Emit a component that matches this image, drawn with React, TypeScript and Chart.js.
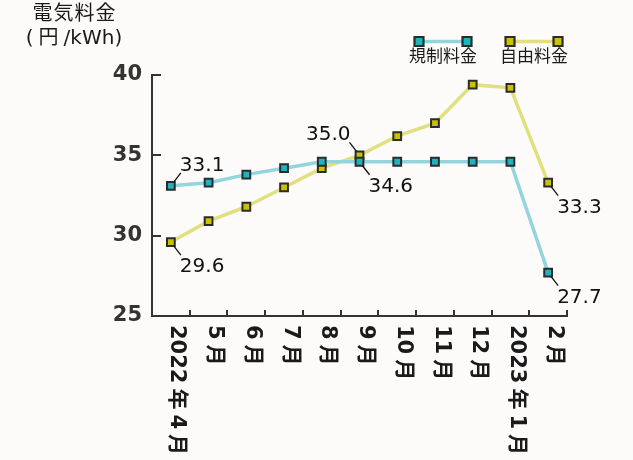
import React, { useEffect, useRef } from 'react';
import { Chart, registerables } from 'chart.js';

Chart.register(...registerables);

// ---- data ----
const categories = ['2022年4月', '5月', '6月', '7月', '8月', '9月', '10月', '11月', '12月', '2023年1月', '2月'];
const regulatedValues = [33.1, 33.3, 33.8, 34.2, 34.6, 34.6, 34.6, 34.6, 34.6, 34.6, 27.7];
const freeValues = [29.6, 30.9, 31.8, 33.0, 34.2, 35.0, 36.2, 37.0, 39.4, 39.2, 33.3];
const seriesNames = ['規制料金', '自由料金'];
const yTicks = [25, 30, 35, 40];
const titleLines = ['電気料金', '(円/kWh)'];
// which points carry a value label: [dataset, index, direction]
const labelledPoints: [number, number, string][] = [
  [0, 0, 'ur'],
  [1, 0, 'dr'],
  [1, 5, 'ul'],
  [0, 5, 'dr'],
  [1, 10, 'dr'],
  [0, 10, 'dr'],
];

// ---- styles ----
const BG = '#fdfbfa';
const AXIS = '#333333';
const TEXT = '#1a1a1a';
const MARK_BORDER = '#2b2b2b';
const seriesLine = ['#92d5dd', '#e2df7e'];
const seriesFill = ['#1cb4c1', '#c8c200'];
const FONT = '"DejaVu Sans", "Noto Sans CJK JP", sans-serif';

const isCJK = (c: string) => /[\u3000-\u9fff\uff00-\uffef]/.test(c);

function spacedWidth(ctx: CanvasRenderingContext2D, text: string, pad: number) {
  let w = 0;
  for (const c of Array.from(text)) {
    w += ctx.measureText(c).width + (isCJK(c) ? 2 * pad : 0);
  }
  return w;
}

function drawSpaced(ctx: CanvasRenderingContext2D, text: string, x: number, y: number, pad: number) {
  const prevAlign = ctx.textAlign;
  ctx.textAlign = 'left';
  let cx = x;
  for (const c of Array.from(text)) {
    const cjk = isCJK(c);
    if (cjk) cx += pad;
    ctx.fillText(c, cx, y);
    cx += ctx.measureText(c).width;
    if (cjk) cx += pad;
  }
  ctx.textAlign = prevAlign;
}

const decorPlugin = {
  id: 'decor',
  beforeDraw(chart: any) {
    const ctx = chart.ctx;
    ctx.save();
    ctx.fillStyle = BG;
    ctx.fillRect(0, 0, chart.width, chart.height);
    ctx.restore();
  },
  afterDraw(chart: any) {
    const ctx: CanvasRenderingContext2D = chart.ctx;
    const xs = chart.scales.x;
    const ys = chart.scales.y;
    const area = chart.chartArea;
    ctx.save();

    // inward y ticks
    ctx.strokeStyle = AXIS;
    ctx.lineWidth = 2;
    yTicks.forEach((v) => {
      const py = Math.round(ys.getPixelForValue(v));
      ctx.beginPath();
      ctx.moveTo(area.left, py);
      ctx.lineTo(area.left + 9, py);
      ctx.stroke();
    });

    // inward x ticks at category boundaries
    const step = xs.getPixelForValue(1) - xs.getPixelForValue(0);
    categories.forEach((_, i) => {
      const px = Math.round(xs.getPixelForValue(i) + step / 2);
      ctx.beginPath();
      ctx.moveTo(px, area.bottom);
      ctx.lineTo(px, area.bottom - 6);
      ctx.stroke();
    });

    // rotated x labels (reading top to bottom)
    ctx.fillStyle = TEXT;
    ctx.font = `bold 21px ${FONT}`;
    ctx.textBaseline = 'middle';
    categories.forEach((lab, i) => {
      const px = xs.getPixelForValue(i);
      ctx.save();
      ctx.translate(px + 6, area.bottom + 9);
      ctx.rotate(Math.PI / 2);
      drawSpaced(ctx, lab, 0, 0, 5);
      ctx.restore();
    });

    // value labels with leader lines
    ctx.font = `20px ${FONT}`;
    ctx.fillStyle = '#111';
    ctx.strokeStyle = '#111';
    ctx.lineWidth = 1.3;
    labelledPoints.forEach(([ds, idx, dir]) => {
      const val = chart.data.datasets[ds].data[idx] as number;
      const px = xs.getPixelForValue(idx);
      const py = ys.getPixelForValue(val);
      const sx = dir === 'ul' ? -1 : 1;
      const sy = dir === 'dr' ? 1 : -1;
      ctx.beginPath();
      ctx.moveTo(px + sx * 3, py + sy * 4);
      ctx.lineTo(px + sx * 10, py + sy * 13);
      ctx.stroke();
      ctx.textAlign = sx > 0 ? 'left' : 'right';
      ctx.textBaseline = 'alphabetic';
      const tx = px + sx * 9;
      const ty = sy > 0 ? py + 30 : py - 15;
      ctx.fillText(val.toFixed(1), tx, ty);
    });

    // legend
    const legendCenters = [443, 534];
    chart.data.datasets.forEach((d: any, i: number) => {
      const cx = legendCenters[i];
      const ly = 41.5;
      ctx.strokeStyle = d.borderColor;
      ctx.lineWidth = 3.5;
      ctx.beginPath();
      ctx.moveTo(cx - 24, ly);
      ctx.lineTo(cx + 24, ly);
      ctx.stroke();
      [cx - 24, cx + 24].forEach((mx) => {
        ctx.fillStyle = d.pointBackgroundColor;
        ctx.strokeStyle = MARK_BORDER;
        ctx.lineWidth = 2.2;
        ctx.beginPath();
        ctx.rect(mx - 4.5, ly - 4.5, 9, 9);
        ctx.fill();
        ctx.stroke();
      });
      ctx.fillStyle = TEXT;
      ctx.font = `17px ${FONT}`;
      ctx.textAlign = 'center';
      ctx.textBaseline = 'middle';
      ctx.fillText(d.label, cx, 58);
    });

    // axis title (top-left)
    ctx.fillStyle = TEXT;
    ctx.font = `20px ${FONT}`;
    ctx.textBaseline = 'middle';
    const pads = [0.5, 5];
    const ys2 = [15, 39];
    titleLines.forEach((t, i) => {
      const w = spacedWidth(ctx, t, pads[i]);
      drawSpaced(ctx, t, 74 - w / 2, ys2[i], pads[i]);
    });

    ctx.restore();
  },
};

export default function App() {
  const ref = useRef<HTMLCanvasElement | null>(null);

  useEffect(() => {
    document.body.style.margin = '0';
    document.body.style.background = BG;
    const canvas = ref.current;
    if (!canvas) return;
    const chart = new Chart(canvas, {
      type: 'line',
      data: {
        labels: categories,
        datasets: [regulatedValues, freeValues].map((vals, i) => ({
          label: seriesNames[i],
          data: vals,
          borderColor: seriesLine[i],
          backgroundColor: seriesFill[i],
          borderWidth: 3.5,
          pointStyle: 'rect',
          pointRadius: 5.5,
          pointBorderWidth: 2,
          pointBorderColor: MARK_BORDER,
          pointBackgroundColor: seriesFill[i],
          tension: 0,
          fill: false,
        })),
      },
      options: {
        responsive: false,
        animation: false,
        events: [],
        layout: { padding: { top: 75, right: 66, left: 0, bottom: 0 } },
        plugins: {
          legend: { display: false },
          tooltip: { enabled: false },
          title: { display: false },
        },
        scales: {
          x: {
            type: 'category',
            offset: true,
            grid: { display: false, offset: true },
            border: { display: true, color: AXIS, width: 2 },
            ticks: { display: false },
            afterFit: (s: any) => {
              s.height = 144;
            },
          },
          y: {
            min: 25,
            max: 40,
            grid: { display: false, drawTicks: false },
            border: { display: true, color: AXIS, width: 2 },
            ticks: {
              stepSize: 5,
              padding: 10,
              color: AXIS,
              font: { family: FONT, size: 21, weight: 'bold' },
            },
            afterFit: (s: any) => {
              s.width = 152;
            },
          },
        },
      },
      plugins: [decorPlugin],
    } as any);
    return () => chart.destroy();
  }, []);

  return (
    <div style={{ position: 'absolute', left: 0, top: 0, width: 633, height: 460 }}>
      <canvas ref={ref} width={633} height={460} style={{ display: 'block' }} />
    </div>
  );
}
